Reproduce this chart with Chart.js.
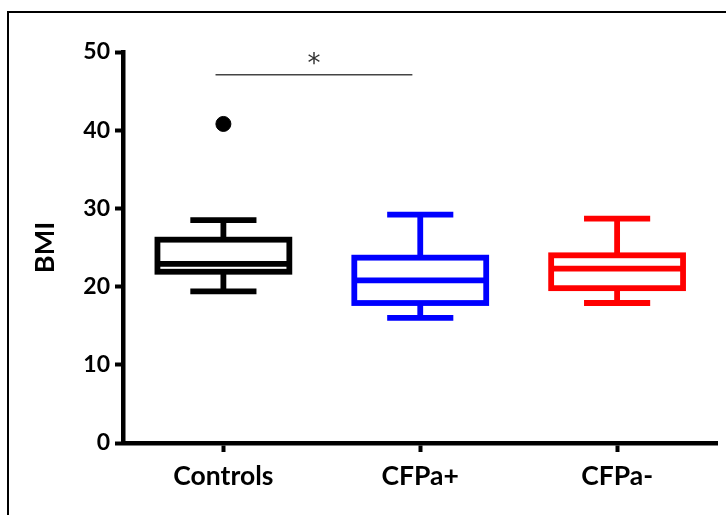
<!DOCTYPE html>
<html>
<head>
<meta charset="utf-8">
<script src="https://cdn.jsdelivr.net/npm/chart.js@4"></script>
<style>
  html, body { margin: 0; padding: 0; background: #fff; overflow: hidden; }
  #frame { position: absolute; left: 7px; top: 11px; width: 800px; height: 600px;
           border-left: 2px solid #000; border-top: 2px solid #000; }
  #wrap { position: absolute; left: 0; top: 0; width: 726px; height: 515px; }
</style>
</head>
<body>
<div id="frame"></div>
<div id="wrap"><canvas id="c"></canvas></div>
<script>
// data
const categories = ['Controls', 'CFPa+', 'CFPa-'];
const whiskerLow = [19.4, 16.0, 17.9];
const q1 = [21.9, 17.9, 19.8];
const median = [22.9, 20.8, 22.3];
const q3 = [26.0, 23.7, 24.0];
const whiskerHigh = [28.5, 29.2, 28.7];
const outlierX = [0];
const outlierY = [40.8];
const boxColors = ['#000000', '#0000ff', '#ff0000'];
const yTicks = [0, 10, 20, 30, 40, 50];
// significance bar Controls vs CFPa+
const sigFrom = -0.04;
const sigTo = 0.96;
const sigY = 47.1;
const sigTextY = 49.2;
const sigText = '*';

const BOX_HALF = 0.335;
const CAP_HALF = 0.168;

// box + whiskers, placed through the chart scales
const boxPlotPlugin = {
    id: 'boxPlot',
    afterDatasetsDraw(chart) {
        const ctx = chart.ctx;
        const x = chart.scales.x;
        const y = chart.scales.y;
        ctx.save();
        ctx.lineCap = 'butt';
        ctx.lineJoin = 'miter';
        categories.forEach((c, i) => {
            const cx = x.getPixelForValue(i);
            const bl = x.getPixelForValue(i - BOX_HALF);
            const br = x.getPixelForValue(i + BOX_HALF);
            const cl = x.getPixelForValue(i - CAP_HALF);
            const cr = x.getPixelForValue(i + CAP_HALF);
            const yMin = y.getPixelForValue(whiskerLow[i]);
            const yQ1 = y.getPixelForValue(q1[i]);
            const yMed = y.getPixelForValue(median[i]);
            const yQ3 = y.getPixelForValue(q3[i]);
            const yMax = y.getPixelForValue(whiskerHigh[i]);
            ctx.strokeStyle = boxColors[i];
            ctx.lineWidth = 5.8;
            ctx.beginPath();
            // whiskers
            ctx.moveTo(cx, yQ3); ctx.lineTo(cx, yMax);
            ctx.moveTo(cx, yQ1); ctx.lineTo(cx, yMin);
            // caps
            ctx.moveTo(cl, yMax); ctx.lineTo(cr, yMax);
            ctx.moveTo(cl, yMin); ctx.lineTo(cr, yMin);
            // median
            ctx.moveTo(bl, yMed); ctx.lineTo(br, yMed);
            ctx.stroke();
            ctx.strokeRect(bl, yQ3, br - bl, yQ1 - yQ3);
        });

        // significance bar
        const sy = y.getPixelForValue(sigY);
        ctx.strokeStyle = '#444';
        ctx.lineWidth = 1.4;
        ctx.beginPath();
        ctx.moveTo(x.getPixelForValue(sigFrom), sy);
        ctx.lineTo(x.getPixelForValue(sigTo), sy);
        ctx.stroke();

        ctx.fillStyle = '#333';
        ctx.font = '26px "DejaVu Sans"';
        ctx.textAlign = 'center';
        ctx.textBaseline = 'alphabetic';
        const m = ctx.measureText(sigText);
        const ty = y.getPixelForValue(sigTextY) + (m.actualBoundingBoxAscent - m.actualBoundingBoxDescent) / 2;
        ctx.fillText(sigText, x.getPixelForValue((sigFrom + sigTo) / 2), ty);
        ctx.restore();
    }
};

new Chart(document.getElementById('c'), {
    type: 'scatter',
    data: {
        datasets: [{
            data: outlierX.map((v, i) => ({x: v, y: outlierY[i]})),
            backgroundColor: '#000',
            borderColor: '#000',
            pointRadius: 7.5,
            pointHoverRadius: 7.5
        }]
    },
    options: {
        responsive: true,
        maintainAspectRatio: false,
        animation: false,
        events: [],
        layout: { padding: { left: 0, right: 8, top: 52, bottom: 0 } },
        plugins: { legend: { display: false }, tooltip: { enabled: false } },
        scales: {
            x: {
                type: 'linear',
                min: -0.51,
                max: 2.51,
                afterBuildTicks(s) { s.ticks = categories.map((c, i) => ({value: i})); },
                afterFit(s) { s.height = 72; },
                border: { display: true, color: '#000', width: 4.5 },
                grid: { drawOnChartArea: false, drawTicks: true, tickLength: 9, tickWidth: 4, tickColor: '#000' },
                ticks: {
                    color: '#000',
                    padding: 9,
                    maxRotation: 0,
                    font: { family: 'Lato', weight: 'bold', size: 26.5 },
                    callback: (v) => categories[v]
                }
            },
            y: {
                min: 0,
                max: 50,
                afterBuildTicks(s) { s.ticks = yTicks.map(v => ({value: v})); },
                afterFit(s) { s.width = 123; },
                border: { display: true, color: '#000', width: 4.5 },
                grid: { drawOnChartArea: false, drawTicks: true, tickLength: 8, tickWidth: 4, tickColor: '#000' },
                ticks: {
                    color: '#000',
                    padding: 5,
                    font: { family: 'Lato', weight: 'bold', size: 23 }
                },
                title: {
                    display: true,
                    text: 'BMI',
                    color: '#000',
                    padding: { top: 29, bottom: 0 },
                    font: { family: 'Lato', weight: 'bold', size: 27 }
                }
            }
        }
    },
    plugins: [boxPlotPlugin]
});
</script>
</body>
</html>
